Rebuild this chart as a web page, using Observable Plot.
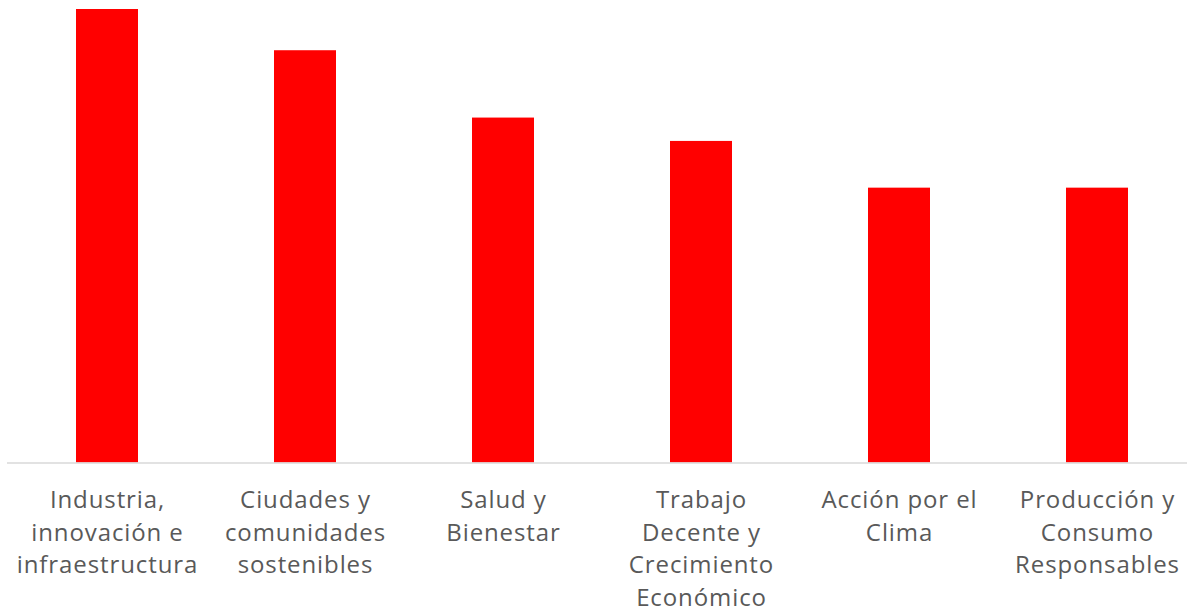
<!DOCTYPE html>
<html>
<head>
<meta charset="utf-8">
<script src="https://cdn.jsdelivr.net/npm/d3@7"></script>
<script src="https://cdn.jsdelivr.net/npm/@observablehq/plot@0.6"></script>
<style>
  html, body { margin: 0; padding: 0; background: #fff; overflow: hidden; }
  svg text { letter-spacing: 0.9px; }
</style>
</head>
<body>
<div id="chart"></div>
<script>
const categories = [
  "Industria, innovación e infraestructura",
  "Ciudades y comunidades sostenibles",
  "Salud y Bienestar",
  "Trabajo Decente y Crecimiento Económico",
  "Acción por el Clima",
  "Producción y Consumo Responsables"
];
const values = [33, 30, 25.1, 23.4, 20, 20];
const tickLabels = [
  "Industria,\ninnovación e\ninfraestructura",
  "Ciudades y\ncomunidades\nsostenibles",
  "Salud y\nBienestar",
  "Trabajo\nDecente y\nCrecimiento\nEconómico",
  "Acción por el\nClima",
  "Producción y\nConsumo\nResponsables"
];

const data = categories.map((c, i) => ({category: c, value: values[i], label: tickLabels[i]}));

const chart = Plot.plot({
  width: 1187,
  height: 612,
  marginLeft: 7,
  marginRight: 0,
  marginTop: 9,
  marginBottom: 149.5,
  style: {fontFamily: "'Open Sans', sans-serif", background: "#fff", overflow: "visible"},
  x: {domain: categories, range: [7, 1196], paddingInner: 0.687, paddingOuter: 0.3435, axis: null},
  y: {domain: [0, 33], range: [462.5, 9], axis: null},
  marks: [
    Plot.barY(data, {x: "category", y: "value", fill: "#ff0000"}),
    Plot.ruleY([0], {stroke: "#d9d9d9", strokeWidth: 1.5}),
    Plot.text(data, {
      x: "category",
      text: "label",
      frameAnchor: "bottom",
      lineAnchor: "top",
      dy: 22,
      lineHeight: 1.36,
      fontSize: 24,
      fill: "#595959"
    })
  ]
});
document.getElementById("chart").appendChild(chart);
</script>
</body>
</html>
